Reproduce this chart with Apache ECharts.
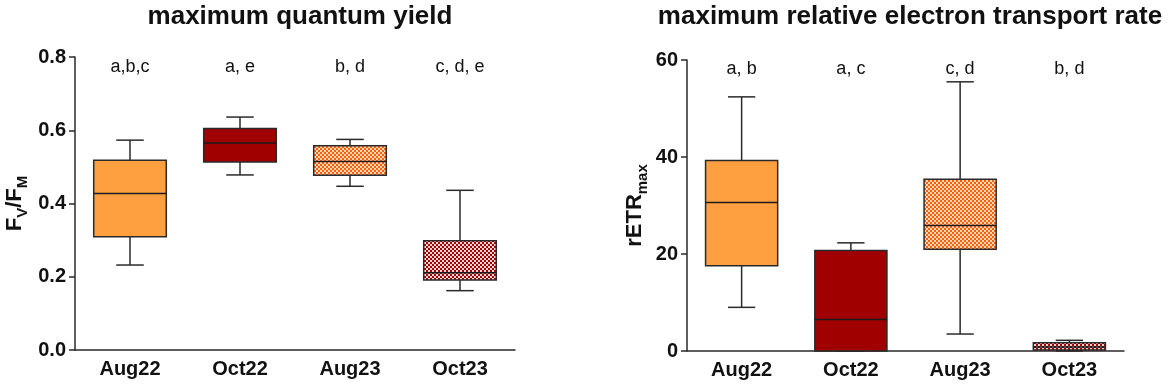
<!DOCTYPE html>
<html>
<head>
<meta charset="utf-8">
<script src="https://cdn.jsdelivr.net/npm/echarts@6/dist/echarts.min.js"></script>
<style>
  html, body { margin: 0; padding: 0; background: #fff; }
  #main { width: 1169px; height: 387px; }
</style>
</head>
<body>
<div id="main"></div>
<script>
const categories = ['Aug22', 'Oct22', 'Aug23', 'Oct23'];

// [min, q1, median, q3, max]
const yieldBoxes = [
  [0.232, 0.309, 0.427, 0.518, 0.573],
  [0.478, 0.513, 0.565, 0.605, 0.636],
  [0.447, 0.477, 0.515, 0.558, 0.575],
  [0.162, 0.191, 0.211, 0.298, 0.436]
];
const etrBoxes = [
  [9.0, 17.6, 30.6, 39.3, 52.4],
  [0, 0, 6.5, 20.7, 22.3],
  [3.5, 21.0, 25.9, 35.4, 55.5],
  [0, 0.2, 0.8, 1.7, 2.2]
];

const yieldLetters = ['a,b,c', 'a, e', 'b, d', 'c, d, e'];
const etrLetters = ['a, b', 'a, c', 'c, d', 'b, d'];
const yieldLetterY = 0.772;
const etrLetterY = 58.1;

function checker(c1, c2) {
  const cv = document.createElement('canvas');
  cv.width = 4; cv.height = 4;
  const ctx = cv.getContext('2d');
  ctx.fillStyle = c2;
  ctx.fillRect(0, 0, 4, 4);
  ctx.fillStyle = c1;
  ctx.fillRect(0, 0, 2, 2);
  ctx.fillRect(2, 2, 2, 2);
  return { image: cv, repeat: 'repeat' };
}

const fills = [
  '#ffa040',
  '#a00000',
  checker('#ff5f00', '#ffd8bc'),
  checker('#a80000', '#f3d6d6')
];

const font = 'Liberation Sans';

function renderBox(params, api) {
  const cat = api.value(0);
  const band = api.size([1, 0])[0];
  const half = band * 0.33;
  const cap = band * 0.125;
  const pMin = api.coord([cat, api.value(1)]);
  const pQ1 = api.coord([cat, api.value(2)]);
  const pMed = api.coord([cat, api.value(3)]);
  const pQ3 = api.coord([cat, api.value(4)]);
  const pMax = api.coord([cat, api.value(5)]);
  const x = pMed[0];
  const line = { stroke: '#2a2a2a', lineWidth: 1.5 };
  return {
    type: 'group',
    children: [
      { type: 'line', shape: { x1: x, y1: pMax[1], x2: x, y2: pQ3[1] }, style: line },
      { type: 'line', shape: { x1: x - cap, y1: pMax[1], x2: x + cap, y2: pMax[1] }, style: line },
      { type: 'line', shape: { x1: x, y1: pQ1[1], x2: x, y2: pMin[1] }, style: line },
      { type: 'line', shape: { x1: x - cap, y1: pMin[1], x2: x + cap, y2: pMin[1] }, style: line },
      {
        type: 'rect',
        shape: { x: x - half, y: pQ3[1], width: half * 2, height: pQ1[1] - pQ3[1] },
        style: { fill: fills[cat], stroke: '#2a2a2a', lineWidth: 1.5 }
      },
      { type: 'line', shape: { x1: x - half, y1: pMed[1], x2: x + half, y2: pMed[1] }, style: { stroke: '#1a1a1a', lineWidth: 1.5 } }
    ]
  };
}

const letterSets = { 2: yieldLetters, 3: etrLetters };

function renderLetter(params, api) {
  const p = api.coord([api.value(0), api.value(1)]);
  return {
    type: 'text',
    x: p[0], y: p[1],
    style: {
      text: letterSets[params.seriesIndex][params.dataIndex],
      font: '18px "' + font + '"',
      fill: '#111',
      align: 'center',
      verticalAlign: 'middle'
    }
  };
}

const boxData = (arr) => arr.map((b, i) => [i].concat(b));

const axisLine = { lineStyle: { color: '#2a2a2a', width: 1.5 } };
const nameRich = {
  m: { fontFamily: font, fontSize: 22, fontWeight: 'bold', color: '#111', lineHeight: 24, verticalAlign: 'bottom' },
  s: { fontFamily: font, fontSize: 15, fontWeight: 'bold', color: '#111', lineHeight: 15, verticalAlign: 'bottom', padding: [0, 0, -4, 0] }
};

const chart = echarts.init(document.getElementById('main'));
chart.setOption({
  animation: false,
  title: [
    { text: 'maximum quantum yield', left: 295, top: -1, textAlign: 'center',
      textStyle: { fontFamily: font, fontSize: 26, fontWeight: 'bold', color: '#111' } },
    { text: 'maximum relative electron transport rate', left: 905, top: -1, textAlign: 'center',
      textStyle: { fontFamily: font, fontSize: 26, fontWeight: 'bold', color: '#111' } }
  ],
  grid: [
    { left: 75, right: 654, top: 57, bottom: 37 },
    { left: 687, right: 45, top: 60, bottom: 36 }
  ],
  xAxis: [0, 1].map(g => ({
    type: 'category', gridIndex: g, data: categories, boundaryGap: true,
    axisLine: axisLine,
    axisTick: { alignWithLabel: true, length: 6, lineStyle: { color: '#2a2a2a', width: 1.5 } },
    axisLabel: { fontFamily: font, fontSize: 20, fontWeight: 'bold', color: '#111', margin: 9 },
    splitLine: { show: false }
  })),
  yAxis: [
    {
      type: 'value', gridIndex: 0, min: 0, max: 0.8, interval: 0.2,
      axisLine: { show: true, lineStyle: { color: '#2a2a2a', width: 1.5 } },
      axisTick: { show: true, length: 6, lineStyle: { color: '#2a2a2a', width: 1.5 } },
      axisLabel: { fontFamily: font, fontSize: 20, fontWeight: 'bold', color: '#111', margin: 9,
        formatter: v => v.toFixed(1) },
      splitLine: { show: false },
      name: '{m|F}{s|V}{m|/F}{s|M}', nameLocation: 'middle', nameRotate: 90, nameGap: 49,
      nameTextStyle: { rich: nameRich }
    },
    {
      type: 'value', gridIndex: 1, min: 0, max: 60, interval: 20,
      axisLine: { show: true, lineStyle: { color: '#2a2a2a', width: 1.5 } },
      axisTick: { show: true, length: 6, lineStyle: { color: '#2a2a2a', width: 1.5 } },
      axisLabel: { fontFamily: font, fontSize: 20, fontWeight: 'bold', color: '#111', margin: 9 },
      splitLine: { show: false },
      name: '{m|rETR}{s|max}', nameLocation: 'middle', nameRotate: 90, nameGap: 41,
      nameTextStyle: { rich: nameRich }
    }
  ],
  series: [
    { type: 'custom', xAxisIndex: 0, yAxisIndex: 0, renderItem: renderBox, data: boxData(yieldBoxes) },
    { type: 'custom', xAxisIndex: 1, yAxisIndex: 1, renderItem: renderBox, data: boxData(etrBoxes) },
    { type: 'custom', xAxisIndex: 0, yAxisIndex: 0, renderItem: renderLetter,
      data: yieldLetters.map((t, i) => [i, yieldLetterY]) },
    { type: 'custom', xAxisIndex: 1, yAxisIndex: 1, renderItem: renderLetter,
      data: etrLetters.map((t, i) => [i, etrLetterY]) }
  ]
});
</script>
</body>
</html>
